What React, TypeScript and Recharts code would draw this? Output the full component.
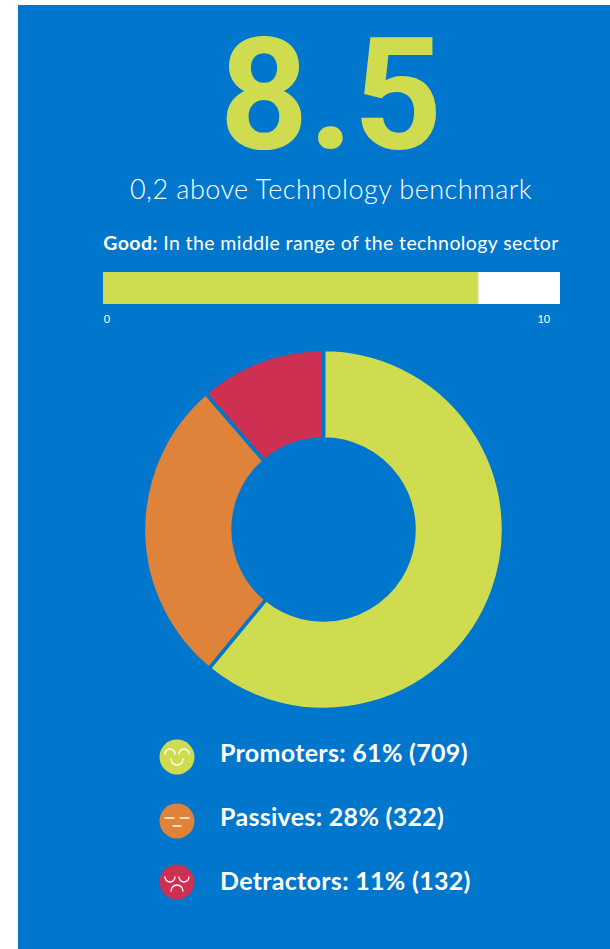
import { Bar, BarChart, Cell, Pie, PieChart, XAxis, YAxis } from 'recharts';

const BLUE = '#0077cc';
const LIME = '#cfdc50';
const ORANGE = '#e0833a';
const RED = '#ce3052';
const FONT = 'Lato, sans-serif';

const score = 8.5;
const scaleTicks = [0, 10];
// the white track runs a little past both ends of the 0-10 scale
const scaleDomain = [-0.09, 10.37];

const segmentNames = ['Promoters', 'Passives', 'Detractors'];
const segmentCounts = [709, 322, 132];
const segmentPercents = [61, 28, 11];
const segmentColors = [LIME, ORANGE, RED];

const scoreData = [{ name: 'score', range: [scaleDomain[0], score] }];
const pieData = segmentNames.map((name, i) => ({ name, value: segmentCounts[i] }));

const faceTops = [738.5, 802.5, 863.5];

const Face = ({ mood, color }: { mood: number; color: string }) => {
  const line = { fill: 'none', stroke: '#fff', strokeWidth: 1.3, strokeLinecap: 'round' as const };
  return (
    <svg width={36} height={36} viewBox="0 0 36 36" style={{ display: 'block' }}>
      <circle cx={18} cy={18} r={17.5} fill={color} />
      {mood === 0 && (
        <>
          <path d="M6 15 A5 5 0 0 1 16 15" {...line} />
          <path d="M20 15 A5 5 0 0 1 30 15" {...line} />
          <path d="M12 20 A6 6 0 0 0 24 20" {...line} />
        </>
      )}
      {mood === 1 && (
        <>
          <path d="M6 15 H15" {...line} />
          <path d="M21 15 H30" {...line} />
          <path d="M14 23 H22" {...line} />
        </>
      )}
      {mood === 2 && (
        <>
          <path d="M6 13 A5 5 0 0 0 16 13" {...line} />
          <path d="M20 13 A5 5 0 0 0 30 13" {...line} />
          <path d="M12 27 A6 6 0 0 1 24 27" {...line} />
        </>
      )}
    </svg>
  );
};

// heading lines share a centre line to the right of the panel's middle
const centered = (top: number, fontSize: number): React.CSSProperties => ({
  position: 'absolute',
  left: 26,
  width: 610,
  top,
  textAlign: 'center',
  fontSize,
  lineHeight: 1,
  color: '#fff',
  whiteSpace: 'nowrap',
});

export default function App() {
  return (
    <div style={{ position: 'absolute', left: 0, top: 0, width: 610, height: 949, background: '#fff', fontFamily: FONT, overflow: 'hidden' }}>
      <div style={{ position: 'absolute', left: 18, top: 5, width: 592, height: 944, background: BLUE }} />

      <div style={{ ...centered(18, 155), color: LIME, fontWeight: 700, fontFamily: 'Roboto, sans-serif' }}>{score}</div>
      <div style={{ ...centered(175, 27), fontWeight: 300, letterSpacing: 0.45 }}>0,2 above Technology benchmark</div>
      <div style={{ ...centered(233, 19.5), letterSpacing: 0.4 }}>
        <b>Good:</b> In the middle range of the technology sector
      </div>

      <div style={{ position: 'absolute', left: 103, top: 272 }}>
        <BarChart
          width={457}
          height={54}
          layout="vertical"
          data={scoreData}
          barCategoryGap={0}
          margin={{ top: 0, right: 0, bottom: 0, left: 0 }}
        >
          <XAxis
            type="number"
            domain={scaleDomain}
            ticks={scaleTicks}
            height={22}
            axisLine={false}
            tickLine={false}
            tickMargin={5}
            tick={{ fill: '#fff', fontSize: 11, fontFamily: FONT }}
          />
          <YAxis type="category" dataKey="name" hide />
          <Bar dataKey="range" fill={LIME} background={{ fill: '#fff' }} isAnimationActive={false} />
        </BarChart>
      </div>

      <div style={{ position: 'absolute', left: 134, top: 339 }}>
        <PieChart width={380} height={380} margin={{ top: 0, right: 0, bottom: 0, left: 0 }}>
          <Pie
            data={pieData}
            dataKey="value"
            cx={189.5}
            cy={190.5}
            innerRadius={90.5}
            outerRadius={180}
            startAngle={90}
            endAngle={-270}
            stroke={BLUE}
            strokeWidth={3.5}
            isAnimationActive={false}
          >
            {pieData.map((d, i) => (
              <Cell key={d.name} fill={segmentColors[i]} />
            ))}
          </Pie>
        </PieChart>
      </div>

      {segmentNames.map((name, i) => (
        <div key={name}>
          <div style={{ position: 'absolute', left: 158.5, top: faceTops[i] }}>
            <Face mood={i} color={segmentColors[i]} />
          </div>
          <div style={{ position: 'absolute', left: 220, top: 737 + i * 64, fontSize: 25, lineHeight: 1.2, fontWeight: 700, letterSpacing: 0.3, color: '#fff', whiteSpace: 'nowrap' }}>
            {name}: {segmentPercents[i]}% ({segmentCounts[i]})
          </div>
        </div>
      ))}
    </div>
  );
}
